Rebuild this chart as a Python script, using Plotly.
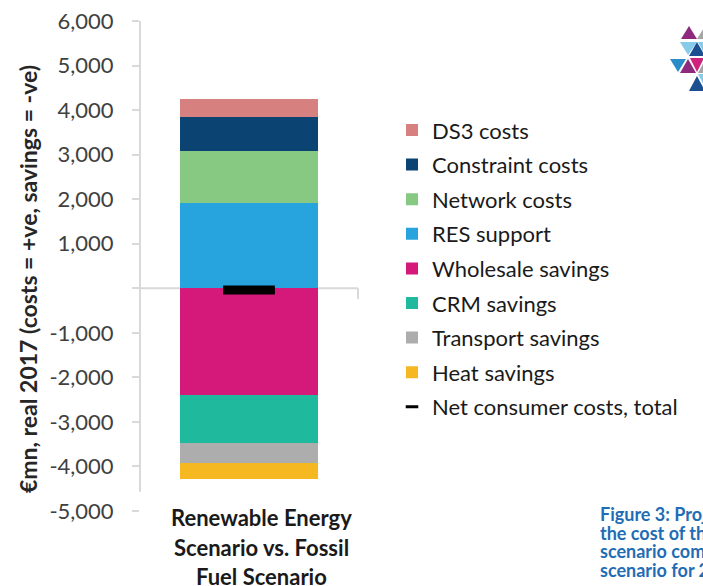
import plotly.graph_objects as go

# ---------------- data ----------------
categories = ["Renewable Energy Scenario vs. Fossil Fuel Scenario"]
category_label_lines = ["Renewable Energy", "Scenario vs. Fossil", "Fuel Scenario"]

# stacking order (bottom-up for costs, top-down for savings)
series_names = ["RES support", "Network costs", "Constraint costs", "DS3 costs",
                "Wholesale savings", "CRM savings", "Transport savings", "Heat savings"]
res_support = [1920]
network_costs = [1170]
constraint_costs = [760]
ds3_costs = [390]
wholesale_savings = [-2390]
crm_savings = [-1080]
transport_savings = [-455]
heat_savings = [-355]
net_total = [-40]
net_name = "Net consumer costs, total"

series_values = [res_support, network_costs, constraint_costs, ds3_costs,
                 wholesale_savings, crm_savings, transport_savings, heat_savings]
series_colors = ["#27a4dd", "#87c882", "#0b4372", "#d68080",
                 "#d4197a", "#1fba9e", "#adadad", "#f5b820"]
legend_ranks = [4, 3, 2, 1, 5, 6, 7, 8]

y_tick_vals = [-5000, -4000, -3000, -2000, -1000, 0, 1000, 2000, 3000, 4000, 5000, 6000]
y_tick_text = ["-5,000", "-4,000", "-3,000", "-2,000", "-1,000", "",
               "1,000", "2,000", "3,000", "4,000", "5,000", "6,000"]
y_title = "€mn, real 2017 (costs = +ve, savings = -ve)"
caption_lines = ["Figure 3: Projected impact on", "the cost of the renewable",
                 "scenario compared to fossil", "scenario for 2030"]

FONT = "Lato, 'Open Sans', sans-serif"
AXIS_GREY = "#d9d9d9"

fig = go.Figure()
for name, vals, col, rk in zip(series_names, series_values, series_colors, legend_ranks):
    fig.add_trace(go.Bar(
        x=categories, y=vals, name=name, marker=dict(color=col, line=dict(width=0)),
        width=0.63, legendrank=rk, legendgroup=name,
    ))

fig.add_trace(go.Scatter(
    x=categories, y=net_total, mode="markers", showlegend=False,
    marker=dict(symbol="line-ew", size=37, color="black",
                line=dict(width=9, color="black")),
))
fig.add_trace(go.Scatter(
    x=[None], y=[None], mode="markers", name=net_name, legendrank=9, legendgroup="net",
    marker=dict(symbol="line-ew", size=9, color="black",
                line=dict(width=3, color="black")),
))

shapes = [
    # vertical axis line
    dict(type="line", xref="paper", yref="y", x0=0, x1=0, y0=6000, y1=-4570,
         line=dict(color=AXIS_GREY, width=2), layer="below"),
    # horizontal axis at zero
    dict(type="line", xref="paper", yref="y", x0=0, x1=1, y0=0, y1=0,
         line=dict(color=AXIS_GREY, width=2), layer="below"),
    dict(type="line", xref="paper", yref="y", x0=1, x1=1, y0=0, y1=-240,
         line=dict(color=AXIS_GREY, width=2), layer="below"),
]

# logo triangles (decoration), pixel coords converted to paper
logo_tris = [
    ((689, 26), (681, 39), (697, 39), "#8e2a7e"),
    ((705, 26), (697, 39), (713, 39), "#a6a6a6"),
    ((680, 42), (697, 42), (688, 55), "#86cbea"),
    ((697, 42), (689, 56), (705, 56), "#1b4f91"),
    ((698, 42), (712, 42), (705, 55), "#86cbea"),
    ((670, 59), (686, 59), (678, 72), "#2a8cc8"),
    ((688, 59), (680, 73), (696, 73), "#8e2a7e"),
    ((690, 58), (704, 58), (697, 72), "#d0217c"),
    ((705, 60), (698, 73), (712, 73), "#a6a6a6"),
    ((697, 76), (689, 91), (705, 91), "#1b4f91"),
    ((698, 74), (712, 74), (705, 87), "#86cbea"),
]
L, T, PW, PH = 140, 21, 218, 490
def px2paper(px, py):
    return (px - L) / PW, (T + PH - py) / PH
for a, b, c, col in logo_tris:
    pts = [px2paper(*p) for p in (a, b, c)]
    path = "M{:.4f},{:.4f} L{:.4f},{:.4f} L{:.4f},{:.4f} Z".format(*pts[0], *pts[1], *pts[2])
    shapes.append(dict(type="path", xref="paper", yref="paper", path=path,
                       fillcolor=col, line=dict(width=0)))

annotations = []
# y-axis title
ax, ay = px2paper(28, 279)
annotations.append(dict(text="<b>" + y_title + "</b>", xref="paper", yref="paper", x=ax, y=ay,
                        textangle=-90, showarrow=False, xanchor="center", yanchor="middle",
                        font=dict(family=FONT, size=23, color="#262626")))
# category label lines
for line, py in zip(category_label_lines, [517, 547, 576]):
    cx, cy = px2paper(261, py)
    annotations.append(dict(text="<b>" + line + "</b>", xref="paper", yref="paper", x=cx, y=cy,
                            showarrow=False, xanchor="center", yanchor="middle",
                            font=dict(family=FONT, size=22, color="#1a1a1a")))
# caption
for line, py in zip(caption_lines, [514, 533, 551, 570]):
    cx, cy = px2paper(598, py)
    annotations.append(dict(text="<b>" + line + "</b>", xref="paper", yref="paper", x=cx, y=cy,
                            showarrow=False, xanchor="left", yanchor="middle",
                            font=dict(family=FONT, size=18, color="#1f6db5")))

fig.update_layout(
    width=703, height=586,
    margin=dict(l=L, r=703 - L - PW, t=T, b=586 - T - PH, autoexpand=False),
    paper_bgcolor="white", plot_bgcolor="white",
    barmode="relative", bargap=0,
    font=dict(family=FONT, size=22, color="#404040"),
    showlegend=True,
    legend=dict(x=1.156, xanchor="left", y=0.82, yanchor="top",
                font=dict(family=FONT, size=22, color="#1a1a1a"),
                tracegroupgap=3, bgcolor="rgba(0,0,0,0)"),
    xaxis=dict(range=[-0.5, 0.5], showticklabels=False, showgrid=False, zeroline=False,
               showline=False, ticks=""),
    yaxis=dict(range=[-5000, 6000], tickvals=y_tick_vals, ticktext=y_tick_text,
               showgrid=False, zeroline=False, showline=False,
               ticks="outside", ticklen=7, tickwidth=2, tickcolor=AXIS_GREY,
               ticklabelstandoff=14,
               tickfont=dict(family=FONT, size=22, color="#404040")),
    shapes=shapes, annotations=annotations,
)

fig.write_html("out.html", config={"displayModeBar": False},
               post_script="document.body.style.margin='0';document.body.style.overflow='hidden';")
